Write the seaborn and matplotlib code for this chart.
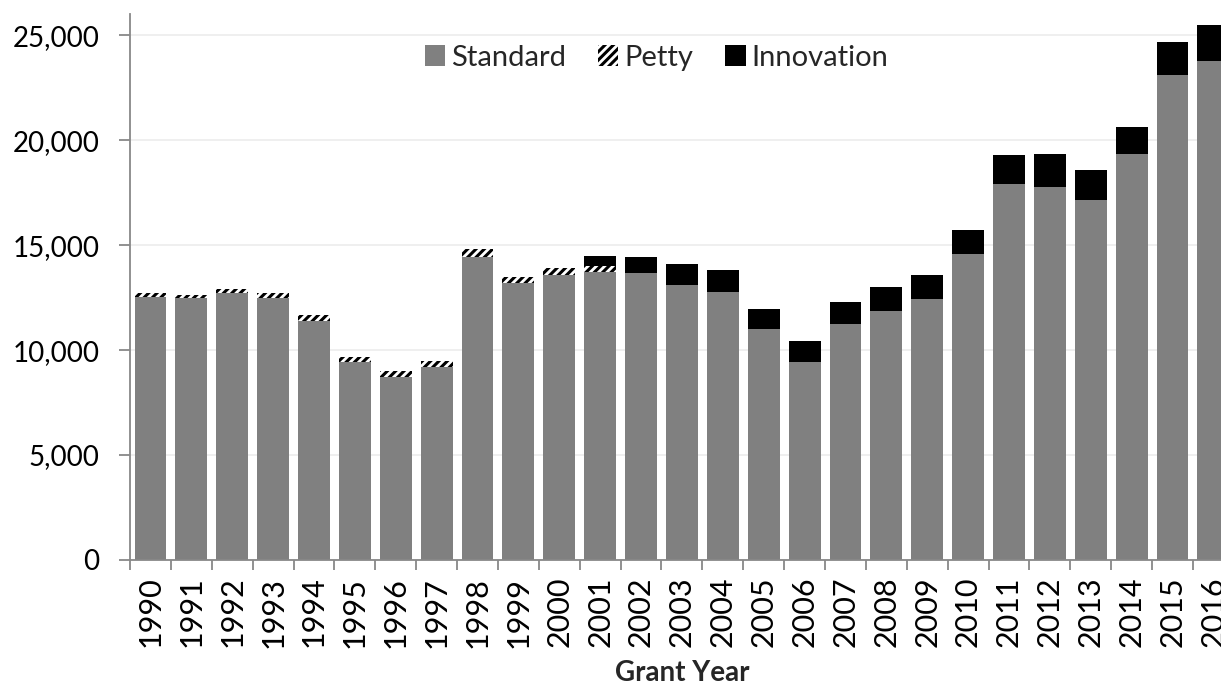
import matplotlib
matplotlib.use("Agg")
import matplotlib.pyplot as plt
from matplotlib.patches import Patch
from matplotlib.ticker import FuncFormatter, FixedLocator
import numpy as np
import pandas as pd
import seaborn as sns

# Grants per year by type
years = [str(y) for y in range(1990, 2017)]
standard = [12520, 12460, 12700, 12460, 11400, 9440, 8730, 9210, 14440, 13210,
            13570, 13730, 13650, 13080, 12760, 10980, 9430, 11240, 11860, 12410,
            14570, 17900, 17750, 17140, 19330, 23110, 23760]
petty = [190, 160, 190, 270, 270, 220, 270, 260, 350, 290,
         320, 290, 40, 0, 0, 0, 0, 0, 0, 0,
         0, 0, 0, 0, 0, 0, 0]
innovation = [0, 0, 0, 0, 0, 0, 0, 0, 0, 0,
              0, 480, 720, 1000, 1050, 960, 1000, 1060, 1160, 1150,
              1140, 1390, 1570, 1420, 1300, 1570, 1720]

df = pd.DataFrame({"year": years, "standard": standard,
                   "petty": petty, "innovation": innovation})
df["to_petty"] = df["standard"] + df["petty"]
df["to_innov"] = df["to_petty"] + df["innovation"]

sns.set_theme(style="white")
plt.rcParams["font.family"] = ["Lato", "DejaVu Sans"]
plt.rcParams["hatch.linewidth"] = 2.2

fig = plt.figure(figsize=(12.21, 6.84), dpi=100)
ax = fig.add_axes([0.1065, 0.1813, 0.904, 0.798])

bar_w = 0.78
# stacked by overlaying cumulative totals, top layer first
sns.barplot(data=df, x="year", y="to_innov", color="black", saturation=1,
            width=bar_w, errorbar=None, linewidth=0, ax=ax, zorder=2)
sns.barplot(data=df, x="year", y="to_petty", color="white", saturation=1,
            width=bar_w, errorbar=None, linewidth=0, edgecolor="black",
            hatch="////", ax=ax, zorder=3)
sns.barplot(data=df, x="year", y="standard", color="#808080", saturation=1,
            width=bar_w, errorbar=None, linewidth=0, ax=ax, zorder=4)

ax.set_xlim(-0.5, len(years) - 0.5)
ax.set_ylim(0, 26000)
ax.set_yticks(range(0, 25001, 5000))
ax.yaxis.set_major_formatter(FuncFormatter(lambda v, p: f"{int(v):,}"))
ax.grid(axis="y", color="#ececec", linewidth=1.2, zorder=0)
ax.set_axisbelow(True)

for side in ("top", "right"):
    ax.spines[side].set_visible(False)
for side in ("left", "bottom"):
    ax.spines[side].set_color("#888888")
    ax.spines[side].set_linewidth(1.3)
    ax.spines[side].set_zorder(5)

# category boundary ticks on x, labels at centers
ax.xaxis.set_minor_locator(FixedLocator(np.arange(-0.5, len(years), 1.0)))
ax.tick_params(axis="x", which="major", length=0, pad=12, labelsize=22,
               labelrotation=90, labelcolor="black")
ax.tick_params(axis="x", which="minor", length=7, width=1.3, color="#888888",
               bottom=True, direction="out")
ax.tick_params(axis="y", which="major", length=8, width=1.3, color="#888888",
               left=True, direction="out", pad=14, labelsize=20,
               labelcolor="black")

ax.set_ylabel("")
ax.set_xlabel("Grant Year", fontsize=20, fontweight="bold", labelpad=9)

handles = [
    Patch(facecolor="#808080", edgecolor="none", label="Standard"),
    Patch(facecolor="white", edgecolor="black", linewidth=0, hatch="////",
          label="Petty"),
    Patch(facecolor="black", edgecolor="none", label="Innovation"),
]
ax.legend(handles=handles, loc="center", bbox_to_anchor=(0.477, 0.92),
          ncol=3, frameon=False, fontsize=21, handlelength=0.7,
          handleheight=0.7, handletextpad=0.2, columnspacing=1.1)

fig.savefig("out.png", dpi=100)
